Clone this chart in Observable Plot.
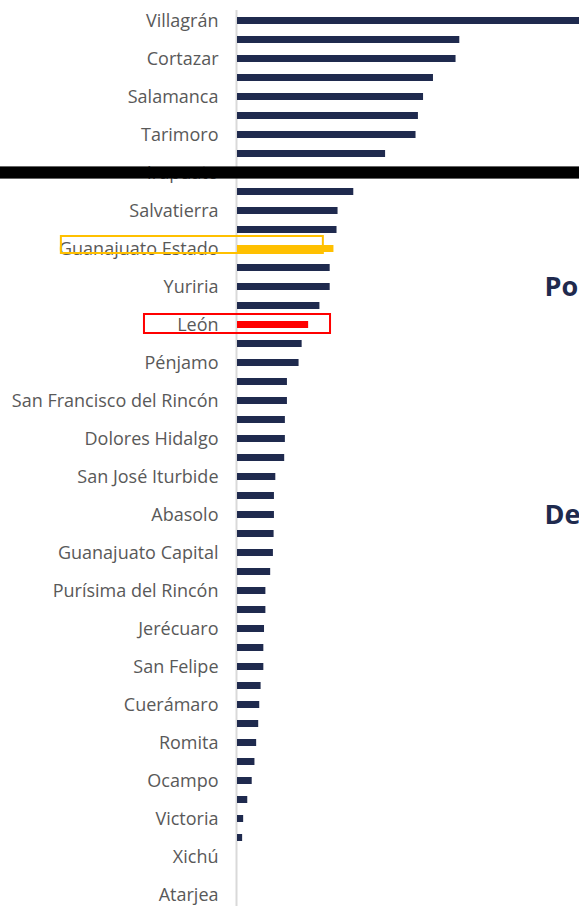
<!DOCTYPE html>
<html><head><meta charset="utf-8">
<script src="https://cdn.jsdelivr.net/npm/d3@7"></script>
<script src="https://cdn.jsdelivr.net/npm/@observablehq/plot@0.6"></script>
<style>
html,body{margin:0;padding:0;background:#fff;overflow:hidden;width:579px;height:906px}
</style></head><body><div id="chart"></div>
<script>
const municipios = [
  "Villagrán","Apaseo el Grande","Cortazar","Silao","Salamanca","Celaya","Tarimoro","Valle de Santiago",
  "Irapuato","Jaral del Progreso","Salvatierra","Acámbaro","Guanajuato Estado","Moroleón","Yuriria","Uriangato",
  "León","Apaseo el Alto","Pénjamo","Comonfort","San Francisco del Rincón","San Miguel de Allende","Dolores Hidalgo",
  "Santa Cruz de Juventino Rosas","San José Iturbide","Huanímaro","Abasolo","Manuel Doblado","Guanajuato Capital",
  "San Luis de la Paz","Purísima del Rincón","Tarandacuao","Jerécuaro","Pueblo Nuevo","San Felipe","Coroneo",
  "Cuerámaro","Santiago Maravatío","Romita","Doctor Mora","Ocampo","San Diego de la Unión","Victoria",
  "Tierra Blanca","Xichú","Santa Catarina","Atarjea"
];
const valores = [
  112, 65.0, 63.9, 57.3, 54.4, 52.9, 52.2, 43.3,
  38.0, 34.0, 29.4, 29.1, 28.2, 27.1, 27.1, 24.1,
  20.8, 18.9, 18.0, 14.6, 14.6, 14.0, 14.0,
  13.8, 11.2, 10.8, 10.8, 10.7, 10.5,
  9.7, 8.3, 8.3, 7.9, 7.7, 7.7, 6.9,
  6.5, 6.2, 5.6, 5.1, 4.3, 3.0, 1.8,
  1.5, 0, 0, 0
];
const etiquetas = [
  "Villagrán","Cortazar","Salamanca","Tarimoro","Irapuato","Salvatierra","Guanajuato Estado","Yuriria","León",
  "Pénjamo","San Francisco del Rincón","Dolores Hidalgo","San José Iturbide","Abasolo","Guanajuato Capital",
  "Purísima del Rincón","Jerécuaro","San Felipe","Cuerámaro","Romita","Ocampo","Victoria","Xichú","Atarjea"
];
const colorBase = "#1f2a4e";
const destacados = {"Guanajuato Estado": "#FFC000", "León": "#FF0000"};
const textosLaterales = [
  {municipio: "Yuriria", x: 89.8, texto: "Po"},
  {municipio: "Abasolo", x: 89.8, texto: "De"}
];
const recuadroEstado = [{municipio: "Guanajuato Estado", x1: -51.5, x2: 25.1}];
const recuadroLeon = [{municipio: "León", x1: -27.2, x2: 27.2}];
const tachado = [{municipio: "Irapuato", x1: -69.3, x2: 130}];

const datos = municipios.map((m, i) => ({municipio: m, valor: valores[i], color: destacados[m] || colorBase}));

const chart = Plot.plot({
  width: 579,
  height: 906,
  marginLeft: 237,
  marginRight: 0,
  marginTop: 10,
  marginBottom: 0,
  style: {fontFamily: "Open Sans, sans-serif", background: "#fff"},
  x: {domain: [0, 100], axis: null},
  y: {domain: municipios, range: [2.44, 913.0], paddingInner: 0.65, paddingOuter: 0.65, axis: null},
  color: {type: "identity"},
  marks: [
    Plot.ruleX([0], {stroke: "#d9d9d9", strokeWidth: 2, dx: -1}),
    Plot.barX(datos, {y: "municipio", x: "valor", fill: "color"}),
    Plot.axisY({ticks: etiquetas, tickSize: 0, tickPadding: 19, fontSize: 18, color: "#595959", label: null}),
    Plot.barX(tachado, {y: "municipio", x1: "x1", x2: "x2", fill: "#000", insetTop: -2.6, insetBottom: -2.6}),
    Plot.barX(recuadroEstado, {y: "municipio", x1: "x1", x2: "x2", fill: "none", stroke: "#FFC000", strokeWidth: 2, insetTop: -9, insetBottom: -1}),
    Plot.barX(recuadroLeon, {y: "municipio", x1: "x1", x2: "x2", fill: "none", stroke: "#FF0000", strokeWidth: 2, insetTop: -7, insetBottom: -5}),
    Plot.text(textosLaterales, {y: "municipio", x: "x", text: "texto", textAnchor: "start", fontSize: 27, fontWeight: 700, fill: colorBase})
  ]
});
document.getElementById("chart").appendChild(chart);
</script></body></html>
